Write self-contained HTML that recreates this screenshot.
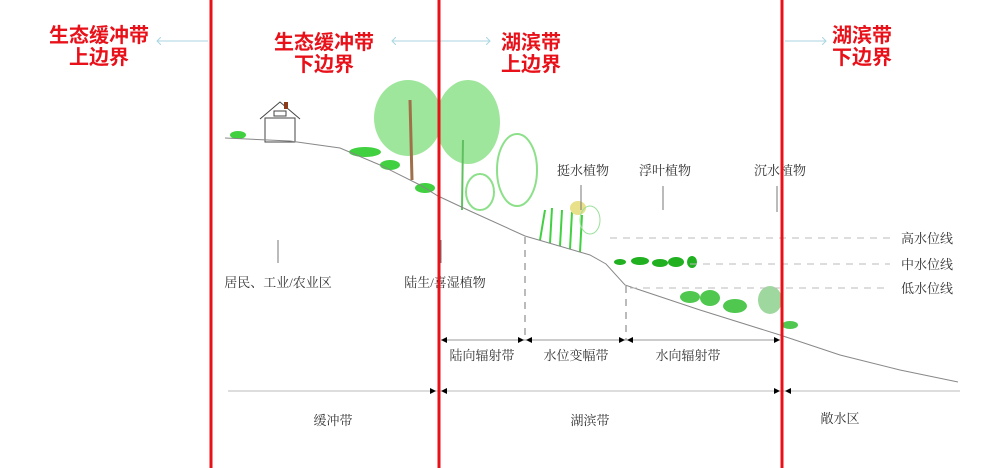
<!DOCTYPE html>
<html><head><meta charset="utf-8"><style>
html,body{margin:0;padding:0;background:#fff;}
svg{display:block;}
.r{font-family:"Liberation Sans","Noto Sans CJK SC",sans-serif;font-weight:bold;fill:#e8111a;font-size:20px;text-anchor:middle;}
.t{font-family:"Liberation Serif","Noto Serif CJK SC",serif;fill:#333;font-size:13px;text-anchor:middle;}
</style></head><body>
<svg width="994" height="468" viewBox="0 0 994 468" xmlns="http://www.w3.org/2000/svg">
<defs>
<marker id="ba" markerWidth="8" markerHeight="8" refX="4" refY="4" orient="auto"><path d="M0,0 L4,4 L0,8" fill="none" stroke="#a9d6e0" stroke-width="1"/></marker>
</defs>
<text class="r" x="99" y="42">生态缓冲带</text><text class="r" x="99" y="64">上边界</text>
<text class="r" x="324" y="49">生态缓冲带</text><text class="r" x="324" y="71">下边界</text>
<text class="r" x="531" y="49">湖滨带</text><text class="r" x="531" y="71">上边界</text>
<text class="r" x="862" y="42">湖滨带</text><text class="r" x="862" y="64">下边界</text>
<line x1="208" y1="41" x2="157" y2="41" stroke="#a9d6e0" marker-end="url(#ba)"/>
<line x1="438" y1="41" x2="392" y2="41" stroke="#a9d6e0" marker-end="url(#ba)"/>
<line x1="438" y1="41" x2="490" y2="41" stroke="#a9d6e0" marker-end="url(#ba)"/>
<line x1="785" y1="41" x2="826" y2="41" stroke="#a9d6e0" marker-end="url(#ba)"/>
<g fill="#9ee69b">
<ellipse cx="408" cy="118" rx="34" ry="38"/>
<ellipse cx="468" cy="122" rx="32" ry="42"/>
<ellipse cx="517" cy="170" rx="20" ry="36" fill="none" stroke="#8de08a" stroke-width="2"/>
<ellipse cx="480" cy="192" rx="14" ry="18" fill="none" stroke="#8de08a" stroke-width="2"/>
<ellipse cx="238" cy="135" rx="8" ry="4" fill="#40d040"/>
<ellipse cx="365" cy="152" rx="16" ry="5" fill="#40d040"/>
<ellipse cx="390" cy="165" rx="10" ry="5" fill="#40d040"/>
<ellipse cx="425" cy="188" rx="10" ry="5" fill="#40d040"/>
</g>
<line x1="410" y1="100" x2="412" y2="180" stroke="#a0704a" stroke-width="3"/>
<line x1="463" y1="140" x2="462" y2="210" stroke="#60c060" stroke-width="2"/>
<g stroke="#40d040" stroke-width="2">
<line x1="540" y1="240" x2="545" y2="210"/><line x1="550" y1="243" x2="552" y2="208"/><line x1="560" y1="246" x2="562" y2="210"/><line x1="570" y1="249" x2="572" y2="212"/><line x1="580" y1="252" x2="582" y2="215"/>
</g>
<ellipse cx="578" cy="208" rx="8" ry="7" fill="#e8e08a"/>
<ellipse cx="590" cy="220" rx="10" ry="14" fill="none" stroke="#9be09b"/>
<g fill="#20b020">
<ellipse cx="620" cy="262" rx="6" ry="3"/><ellipse cx="640" cy="261" rx="9" ry="4"/><ellipse cx="660" cy="263" rx="8" ry="4"/><ellipse cx="676" cy="262" rx="8" ry="5"/><ellipse cx="692" cy="262" rx="5" ry="6"/>
</g>
<g fill="#50c850">
<ellipse cx="690" cy="297" rx="10" ry="6"/><ellipse cx="710" cy="298" rx="10" ry="8"/><ellipse cx="735" cy="306" rx="12" ry="7"/><ellipse cx="770" cy="300" rx="12" ry="14" fill="#9ed89e"/><ellipse cx="790" cy="325" rx="8" ry="4"/>
</g>
<g fill="none" stroke="#444" stroke-width="1">
<rect x="265" y="118" width="30" height="24"/>
<path d="M260,119 L280,102 L300,119"/>
<rect x="274" y="111" width="12" height="5"/>
</g>
<rect x="284" y="102" width="4" height="7" fill="#8b3a1a"/>
<polyline points="225,138 290,141 340,148 380,165 420,185 438,196 470,211 525,236 590,255 606,264 625,285 700,310 780,335 840,355 900,370 958,382" fill="none" stroke="#888" stroke-width="1"/>
<g stroke="#bbb" stroke-dasharray="7,6">
<line x1="610" y1="238" x2="890" y2="238"/>
<line x1="690" y1="264" x2="890" y2="264"/>
<line x1="630" y1="288" x2="890" y2="288"/>
<line x1="525" y1="237" x2="525" y2="340" stroke="#777"/>
<line x1="626" y1="286" x2="626" y2="340" stroke="#777"/>
</g>
<text class="t" x="927" y="243">高水位线</text>
<text class="t" x="927" y="269">中水位线</text>
<text class="t" x="927" y="293">低水位线</text>
<text class="t" x="583" y="175">挺水植物</text>
<text class="t" x="665" y="175">浮叶植物</text>
<text class="t" x="780" y="175">沉水植物</text>
<g stroke="#777"><line x1="581" y1="185" x2="581" y2="210"/><line x1="663" y1="186" x2="663" y2="210"/><line x1="777" y1="186" x2="777" y2="212"/><line x1="278" y1="240" x2="278" y2="263"/><line x1="441" y1="240" x2="441" y2="263"/></g>
<text class="t" x="278" y="287">居民、工业/农业区</text>
<text class="t" x="445" y="287">陆生/喜湿植物</text>
<line x1="441" y1="340" x2="780" y2="340" stroke="#999"/>
<g fill="#000">
<path d="M441,340 l6,-3 v6z"/><path d="M524,340 l-6,-3 v6z"/><path d="M526,340 l6,-3 v6z"/><path d="M625,340 l-6,-3 v6z"/><path d="M627,340 l6,-3 v6z"/><path d="M780,340 l-6,-3 v6z"/>
</g>
<text class="t" x="482" y="360">陆向辐射带</text>
<text class="t" x="576" y="360">水位变幅带</text>
<text class="t" x="688" y="360">水向辐射带</text>
<line x1="228" y1="391" x2="960" y2="391" stroke="#bbb"/>
<g fill="#000">
<path d="M436,391 l-6,-3 v6z"/><path d="M441,391 l6,-3 v6z"/><path d="M780,391 l-6,-3 v6z"/><path d="M785,391 l6,-3 v6z"/>
</g>
<text class="t" x="333" y="425">缓冲带</text>
<text class="t" x="590" y="425">湖滨带</text>
<text class="t" x="840" y="423">敞水区</text>
<g stroke="#e8111a" stroke-width="3">
<line x1="211" y1="0" x2="211" y2="468"/>
<line x1="439" y1="0" x2="439" y2="468"/>
<line x1="782" y1="0" x2="782" y2="468"/>
</g>
</svg>
</body></html>
